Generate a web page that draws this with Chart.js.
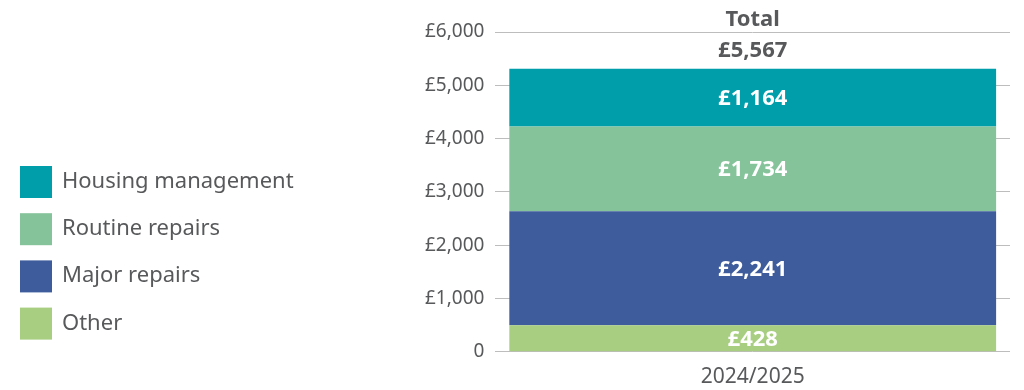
<!DOCTYPE html>
<html><head><meta charset="utf-8">
<script src="https://cdn.jsdelivr.net/npm/chart.js@4"></script>
<style>html,body{margin:0;padding:0;background:#fff}#wrap{width:1024px;height:390px;position:relative}</style>
</head><body><div id="wrap"><canvas id="c" width="1024" height="390"></canvas></div>
<script>
// ---- data ----
const categories = ['2024/2025'];
const seriesNames = ['Other', 'Major repairs', 'Routine repairs', 'Housing management'];
// bar heights as drawn in the picture
const otherValues = [496];
const majorValues = [2142];
const routineValues = [1589];
const housingValues = [1084];
// values printed on the segments
const otherLabels = [428];
const majorLabels = [2241];
const routineLabels = [1734];
const housingLabels = [1164];
const totalLabels = [5567];
const totalTitle = 'Total';
const yTickValues = [0, 1000, 2000, 3000, 4000, 5000, 6000];
const seriesColors = ['#a8ce81', '#3e5c9b', '#85c39b', '#009dab'];

const FONT = '"Noto Sans", "Open Sans", sans-serif';
const TXT = '#58595b';
function money(v) { return v === 0 ? '0' : '£' + String(v).replace(/\B(?=(\d{3})+(?!\d))/g, ','); }

const valueSets = [otherValues, majorValues, routineValues, housingValues];
const labelSets = [otherLabels, majorLabels, routineLabels, housingLabels];

const segLabelPlugin = {
  id: 'segLabels',
  afterDatasetsDraw(chart) {
    const ctx = chart.ctx;
    ctx.save();
    ctx.textAlign = 'center';
    ctx.textBaseline = 'middle';
    ctx.font = 'bold 22px ' + FONT;
    ctx.fillStyle = '#ffffff';
    let topY = Infinity, cx = 0;
    chart.data.datasets.forEach((ds, i) => {
      const meta = chart.getDatasetMeta(i);
      meta.data.forEach((bar, j) => {
        const p = bar.getProps(['x', 'y', 'base'], true);
        ctx.fillText(money(labelSets[i][j]), p.x, (p.y + p.base) / 2 + 1);
        if (p.y < topY) { topY = p.y; cx = p.x; }
      });
    });
    ctx.fillStyle = TXT;
    ctx.fillText(money(totalLabels[0]), cx, topY - 18);
    const yTop = chart.scales.y.getPixelForValue(yTickValues[yTickValues.length - 1]);
    ctx.fillText(totalTitle, cx, yTop - 12);
    ctx.restore();
  }
};

const legendPlugin = {
  id: 'sideLegend',
  afterDraw(chart) {
    const ctx = chart.ctx;
    ctx.save();
    ctx.font = '22px ' + FONT;
    ctx.textAlign = 'left';
    ctx.textBaseline = 'alphabetic';
    const n = chart.data.datasets.length;
    for (let k = 0; k < n; k++) {
      const ds = chart.data.datasets[n - 1 - k];
      const top = 166 + k * 47.2;
      ctx.fillStyle = ds.backgroundColor;
      ctx.fillRect(20, top, 32, 32);
      ctx.fillStyle = TXT;
      ctx.fillText(ds.label, 62, top + 22);
    }
    ctx.restore();
  }
};

new Chart(document.getElementById('c'), {
  type: 'bar',
  data: {
    labels: categories,
    datasets: seriesNames.map((name, i) => ({
      label: name,
      data: valueSets[i],
      backgroundColor: seriesColors[i],
      borderWidth: 0,
      barPercentage: 1,
      categoryPercentage: 0.946
    }))
  },
  options: {
    responsive: false,
    animation: false,
    layout: { padding: { left: 414, right: 14, top: 32, bottom: -13 } },
    plugins: { legend: { display: false }, tooltip: { enabled: false } },
    scales: {
      x: {
        stacked: true,
        grid: { display: false, drawTicks: false },
        border: { display: false },
        ticks: { color: TXT, font: { family: FONT, size: 21 }, padding: 13 }
      },
      y: {
        stacked: true,
        min: 0, max: 6000,
        afterBuildTicks(scale) { scale.ticks = yTickValues.map(v => ({ value: v })); },
        grid: { color: '#bdbdbd', lineWidth: 1, drawTicks: false },
        border: { display: false },
        ticks: { color: TXT, font: { family: FONT, size: 19 }, padding: 11, callback: v => money(v) }
      }
    }
  },
  plugins: [segLabelPlugin, legendPlugin]
});
</script></body></html>
